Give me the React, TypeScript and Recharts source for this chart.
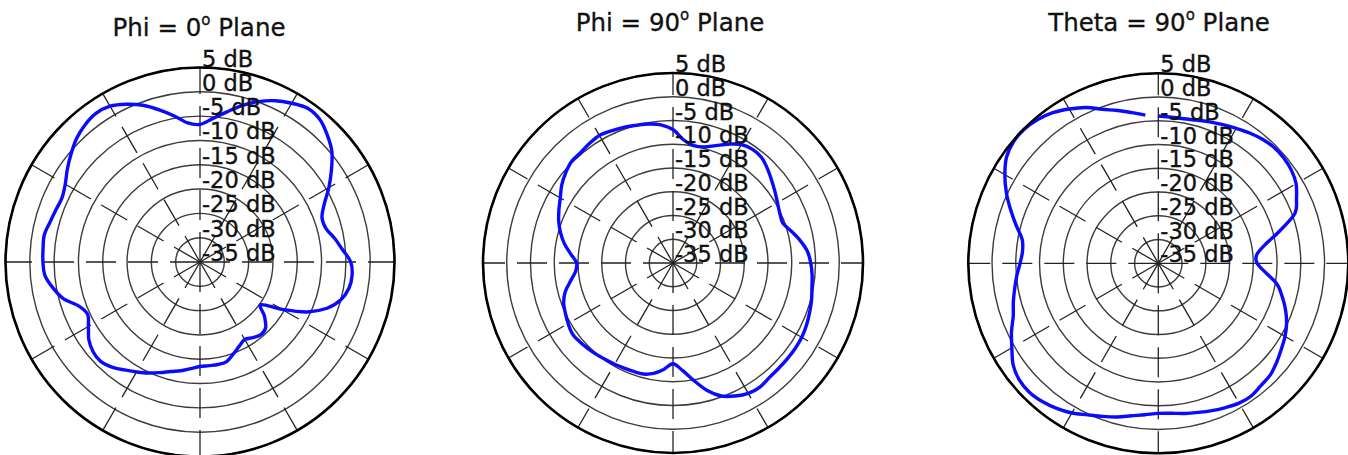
import React from "react";
import { RadarChart, Radar, PolarGrid, PolarAngleAxis, PolarRadiusAxis } from "recharts";

// angle around the plot, degrees clockwise from top
const angles = [
  0, 5, 10, 15, 20, 25, 30, 35, 40, 45, 50, 55, 60, 65, 70, 75, 80, 85,
  90, 95, 100, 105, 110, 115, 120, 125, 130, 135, 140, 145, 150, 155, 160, 165, 170, 175,
  180, 185, 190, 195, 200, 205, 210, 215, 220, 225, 230, 235, 240, 245, 250, 255, 260, 265,
  270, 275, 280, 285, 290, 295, 300, 305, 310, 315, 320, 325, 330, 335, 340, 345, 350, 355,
];

// gain in dB
const phi0Gain = [
  -6.7, -5.4, -3.7, -1.7, 0.1, 1.6, 2.7, 3.6, 3.3, 2.0, 0.4, -2.0, -4.4, -6.8, -8.3, -8.2, -6.9, -5.6,
  -4.0, -3.6, -3.9, -5.0, -7.2, -10.7, -15.5, -19.7, -17.7, -15.9, -15.5, -16.0, -16.6, -15.9, -14.9, -13.8, -13.6, -13.6,
  -13.5, -13.0, -12.3, -11.7, -10.8, -9.8, -8.9, -7.9, -6.8, -6.1, -6.3, -7.1, -8.5, -9.5, -8.5, -5.9, -4.3, -3.0,
  -2.7, -2.6, -2.5, -3.1, -3.5, -3.7, -3.0, -1.7, -0.4, 0.9, 1.8, 2.3, 2.0, 0.8, -0.7, -2.6, -4.5, -6.3,
];

const phi90Gain = [
  -6.9, -9.0, -9.9, -9.7, -8.7, -7.4, -6.2, -5.8, -6.0, -6.9, -7.9, -8.8, -9.6, -10.2, -10.4, -9.2, -7.8, -6.6,
  -6.0, -5.6, -5.3, -4.8, -4.4, -4.0, -3.7, -3.6, -3.6, -3.6, -3.5, -3.1, -3.3, -4.1, -5.2, -7.2, -9.9, -12.3,
  -13.8, -12.5, -11.4, -10.8, -10.7, -10.6, -10.4, -10.2, -9.9, -9.6, -9.3, -9.1, -9.5, -10.0, -10.5, -11.5, -13.1, -14.4,
  -14.7, -13.4, -11.8, -10.5, -9.4, -8.5, -7.6, -6.4, -5.5, -4.8, -4.7, -4.3, -4.0, -4.3, -4.6, -5.0, -5.3, -5.8,
];

const theta90Gain = [
  -4.0, -4.1, -4.1, -3.8, -3.3, -2.8, -2.2, -1.5, -0.9, -0.5, -0.5, -0.8, -1.5, -2.9, -4.4, -8.5, -12.1, -14.2,
  -14.2, -12.3, -9.6, -8.0, -6.5, -5.2, -4.2, -3.4, -2.5, -1.7, -1.4, -0.9, -1.0, -1.5, -2.0, -2.5, -2.9, -3.3,
  -3.4, -3.0, -2.4, -1.5, -0.7, 0.2, 1.4, 2.3, 3.0, 3.4, 3.2, 2.3, 0.6, -0.9, -2.5, -3.4, -4.3, -5.1,
  -5.9, -6.3, -5.9, -4.0, -1.9, 0.3, 2.3, 4.0, 4.8, 4.9, 4.5, 3.7, 2.5, 1.2, -0.5, -1.7, -2.8, -3.7,
];

const radiusTicks = [-35, -30, -25, -20, -15, -10, -5, 0, 5];
const spokeAngles = [0, 30, 60, 90, 120, 150, 180, 210, 240, 270, 300, 330];

const tableData = angles.map((a, i) => ({
  angle: a,
  phi0: phi0Gain[i],
  phi90: phi90Gain[i],
  theta90: theta90Gain[i],
}));

const FONT = "DejaVu Sans, Verdana, sans-serif";

function smoothPath(pts: { x: number; y: number }[], closed: boolean) {
  const n = pts.length;
  if (!n) return "";
  const get = (i: number) => (closed ? pts[(i + n) % n] : pts[Math.max(0, Math.min(n - 1, i))]);
  let d = `M${pts[0].x},${pts[0].y}`;
  const segs = closed ? n : n - 1;
  for (let i = 0; i < segs; i++) {
    const p0 = get(i - 1), p1 = get(i), p2 = get(i + 1), p3 = get(i + 2);
    const c1x = p1.x + (p2.x - p0.x) / 6, c1y = p1.y + (p2.y - p0.y) / 6;
    const c2x = p2.x - (p3.x - p1.x) / 6, c2y = p2.y - (p3.y - p1.y) / 6;
    d += ` C${c1x},${c1y} ${c2x},${c2y} ${p2.x},${p2.y}`;
  }
  if (closed) d += " Z";
  return d;
}

const renderTick = (props: any) => (
  <text
    x={props.x + 2}
    y={props.y - 1}
    fill="#111"
    stroke="#111"
    strokeWidth={0.35}
    fontFamily={FONT}
    fontSize={22.5}
  >
    {`${props.payload.value} dB`}
  </text>
);

interface PolarPlotProps {
  dataKey: string;
  left: number;
  width: number;
  cx: number;
  cy: number;
  radius: number;
  closed: boolean;
}

function PolarPlot({ dataKey, left, width, cx, cy, radius, closed }: PolarPlotProps) {
  return (
    <div style={{ position: "absolute", left, top: 0 }}>
      <RadarChart
        width={width}
        height={455}
        data={tableData}
        cx={cx}
        cy={cy}
        outerRadius={radius}
        margin={{ top: 0, right: 0, bottom: 0, left: 0 }}
      >
        <PolarGrid gridType="circle" radialLines={false} stroke="#3c3c3c" strokeWidth={1.4} />
        <PolarGrid
          gridType="circle"
          polarAngles={spokeAngles}
          polarRadius={[]}
          stroke="#222"
          strokeWidth={1.3}
          strokeDasharray="30 12"
        />
        <PolarAngleAxis
          dataKey="angle"
          tick={false}
          tickLine={false}
          axisLineType="circle"
          axisLine={{ stroke: "#000", strokeWidth: 2.6 }}
        />
        <Radar
          dataKey={dataKey}
          isAnimationActive={false}
          shape={(p: any) => (
            <path d={smoothPath(p.points, closed)} fill="none" stroke="#0a0aff" strokeWidth={3.4} />
          )}
        />
        <PolarRadiusAxis
          angle={90}
          domain={[-35, 5]}
          ticks={radiusTicks as any}
          tickCount={9}
          axisLine={false}
          tickLine={false}
          tick={renderTick}
        />
      </RadarChart>
    </div>
  );
}

function Title({ x, y, pre, post }: { x: number; y: number; pre: string; post: string }) {
  return (
    <text
      x={x}
      y={y}
      textAnchor="middle"
      fontFamily={FONT}
      fontSize={24.5}
      fill="#111"
      stroke="#111"
      strokeWidth={0.3}
    >
      {pre}
      <tspan fontSize={15} dy={-11}>o</tspan>
      <tspan dy={11}>{post}</tspan>
    </text>
  );
}

export default function App() {
  return (
    <div style={{ position: "absolute", left: 0, top: 0, width: 1348, height: 455, background: "#fff" }}>
      <PolarPlot dataKey="phi0" left={0} width={430} cx={200} cy={262} radius={194.5} closed />
      <PolarPlot dataKey="phi90" left={450} width={450} cx={223} cy={263} radius={190} closed />
      <PolarPlot dataKey="theta90" left={930} width={418} cx={228.3} cy={263.3} radius={190} closed={false} />
      <svg width={1348} height={455} style={{ position: "absolute", left: 0, top: 0, pointerEvents: "none" }}>
        <Title x={199} y={36} pre="Phi = 0" post=" Plane" />
        <Title x={670} y={31} pre="Phi = 90" post=" Plane" />
        <Title x={1159} y={31} pre="Theta = 90" post=" Plane" />
      </svg>
    </div>
  );
}
